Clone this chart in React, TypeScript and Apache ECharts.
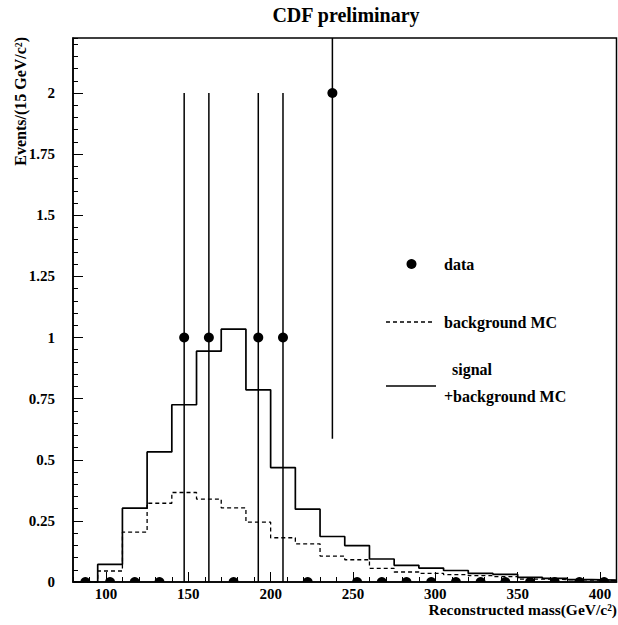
import React, { useEffect, useRef } from "react";
import * as echarts from "echarts";

// Bin left edges (15 GeV/c^2 bins) and upper limit
const BIN_EDGES = [80, 95, 110, 125, 140, 155, 170, 185, 200, 215, 230, 245, 260, 275, 290, 305, 320, 335, 350, 365, 380, 395];
const X_MAX = 410;

// signal + background MC (solid)
const SIGNAL_BG = [0, 0.072, 0.302, 0.532, 0.725, 0.944, 1.034, 0.786, 0.468, 0.298, 0.186, 0.149, 0.094, 0.068, 0.057, 0.047, 0.035, 0.031, 0.019, 0.015, 0.010, 0.008];
// background MC (dashed)
const BACKGROUND = [0, 0.045, 0.204, 0.322, 0.366, 0.339, 0.303, 0.245, 0.181, 0.156, 0.106, 0.091, 0.056, 0.041, 0.035, 0.030, 0.026, 0.022, 0.012, 0.010, 0.008, 0.006];

// data: bin centres and event counts
const DATA_CENTERS = [87.5, 102.5, 117.5, 132.5, 147.5, 162.5, 177.5, 192.5, 207.5, 222.5, 237.5, 252.5, 267.5, 282.5, 297.5, 312.5, 327.5, 342.5, 357.5, 372.5, 387.5, 402.5];
const DATA_COUNTS = [0, 0, 0, 0, 1, 1, 0, 1, 1, 0, 2, 0, 0, 0, 0, 0, 0, 0, 0, 0, 0, 0];

const X_LABELS = [100, 150, 200, 250, 300, 350, 400];
const Y_LABELS = [0, 0.25, 0.5, 0.75, 1, 1.25, 1.5, 1.75, 2];
const Y_MAX = 2.225;

const FONT = '"Liberation Serif", "Times New Roman", serif';

function histPoints(vals: number[]) {
  const pts = BIN_EDGES.map((e, i) => [e, vals[i]]);
  pts.push([X_MAX, vals[vals.length - 1]]);
  return pts;
}

export default function App() {
  const ref = useRef<HTMLDivElement>(null);
  useEffect(() => {
    document.body.style.margin = "0";
    const chart = echarts.init(ref.current!, null, { renderer: "svg" });
    const dataPts = DATA_CENTERS.map((c, i) => [c, DATA_COUNTS[i], Math.sqrt(DATA_COUNTS[i])]);
    const textBase = { fontFamily: FONT, fontWeight: "bold", fill: "#000" };
    const option: any = {
      animation: false,
      backgroundColor: "#fff",
      grid: {
        left: 73,
        right: 1.5,
        top: 38,
        bottom: 43,
        show: true,
        borderColor: "#000",
        borderWidth: 1.5,
        backgroundColor: "transparent",
      },
      xAxis: [
        {
          type: "value",
          min: 80,
          max: X_MAX,
          position: "bottom",
          axisLine: { show: true, lineStyle: { color: "#000", width: 1.5 } },
          axisTick: { show: true, inside: true, length: 10, customValues: X_LABELS, lineStyle: { color: "#000", width: 1 } },
          axisLabel: {
            show: true,
            customValues: X_LABELS,
            margin: 4,
            color: "#000",
            fontFamily: FONT,
            fontWeight: "bold",
            fontSize: 15,
          },
          splitLine: { show: false },
        },
        {
          type: "value",
          min: 80,
          max: X_MAX,
          interval: 10,
          position: "bottom",
          axisLine: { show: false },
          axisTick: { show: true, inside: true, length: 5, lineStyle: { color: "#000", width: 1 } },
          axisLabel: { show: false },
          splitLine: { show: false },
        },
      ],
      yAxis: [
        {
          type: "value",
          min: 0,
          max: Y_MAX,
          position: "left",
          axisLine: { show: true, lineStyle: { color: "#000", width: 1.5 } },
          axisTick: { show: true, inside: true, length: 10, customValues: Y_LABELS, lineStyle: { color: "#000", width: 1 } },
          axisLabel: {
            show: true,
            customValues: Y_LABELS,
            margin: 18,
            color: "#000",
            fontFamily: FONT,
            fontWeight: "bold",
            fontSize: 15,
          },
          splitLine: { show: false },
        },
        {
          type: "value",
          min: 0,
          max: Y_MAX,
          interval: 0.05,
          position: "left",
          axisLine: { show: false },
          axisTick: { show: true, inside: true, length: 5, lineStyle: { color: "#000", width: 1 } },
          axisLabel: { show: false },
          splitLine: { show: false },
        },
      ],
      series: [
        {
          name: "background MC",
          type: "line",
          step: "end",
          xAxisIndex: 0,
          yAxisIndex: 0,
          symbol: "none",
          data: histPoints(BACKGROUND),
          lineStyle: { color: "#000", width: 1.3, type: [4, 3] },
          z: 2,
        },
        {
          name: "signal+background MC",
          type: "line",
          step: "end",
          xAxisIndex: 0,
          yAxisIndex: 0,
          symbol: "none",
          data: histPoints(SIGNAL_BG),
          lineStyle: { color: "#000", width: 1.7 },
          z: 3,
        },
        {
          name: "data",
          type: "custom",
          xAxisIndex: 0,
          yAxisIndex: 0,
          clip: true,
          data: dataPts,
          encode: { x: 0, y: 1 },
          z: 4,
          renderItem: (params: any, api: any) => {
            const x = api.value(0);
            const y = api.value(1);
            const e = api.value(2);
            const c = api.coord([x, y]);
            const children: any[] = [];
            if (e > 0) {
              const lo = api.coord([x, y - e]);
              const hi = api.coord([x, y + e]);
              children.push({
                type: "line",
                shape: { x1: c[0], y1: lo[1], x2: c[0], y2: hi[1] },
                style: { stroke: "#000", lineWidth: 1.5 },
              });
            }
            children.push({
              type: "circle",
              shape: { cx: c[0], cy: c[1], r: 5 },
              style: { fill: "#000" },
            });
            return { type: "group", children };
          },
        },
      ],
      graphic: [
        {
          type: "text",
          x: 346,
          y: 15,
          style: { ...textBase, text: "CDF preliminary", fontSize: 20, align: "center", verticalAlign: "middle" },
        },
        {
          type: "text",
          x: 617,
          y: 609.5,
          style: { ...textBase, text: "Reconstructed mass(GeV/c²)", fontSize: 15.5, align: "right", verticalAlign: "middle" },
        },
        {
          type: "text",
          x: 20,
          y: 37,
          rotation: Math.PI / 2,
          style: { ...textBase, text: "Events/(15 GeV/c²)", fontSize: 16, align: "right", verticalAlign: "middle" },
        },
        // legend
        { type: "circle", shape: { cx: 411.5, cy: 264, r: 5 }, style: { fill: "#000" } },
        {
          type: "text",
          x: 444,
          y: 264,
          style: { ...textBase, text: "data", fontSize: 16, align: "left", verticalAlign: "middle" },
        },
        {
          type: "line",
          shape: { x1: 386, y1: 322, x2: 434, y2: 322 },
          style: { stroke: "#000", lineWidth: 1.3, lineDash: [4, 3] },
        },
        {
          type: "text",
          x: 444,
          y: 322,
          style: { ...textBase, text: "background MC", fontSize: 16, align: "left", verticalAlign: "middle" },
        },
        {
          type: "line",
          shape: { x1: 386, y1: 386, x2: 436, y2: 386 },
          style: { stroke: "#000", lineWidth: 1.7 },
        },
        {
          type: "text",
          x: 452,
          y: 369,
          style: { ...textBase, text: "signal", fontSize: 16, align: "left", verticalAlign: "middle" },
        },
        {
          type: "text",
          x: 444,
          y: 396,
          style: { ...textBase, text: "+background MC", fontSize: 16, align: "left", verticalAlign: "middle" },
        },
      ],
    };
    chart.setOption(option);
    return () => chart.dispose();
  }, []);
  return <div ref={ref} style={{ width: 618, height: 625 }} />;
}
